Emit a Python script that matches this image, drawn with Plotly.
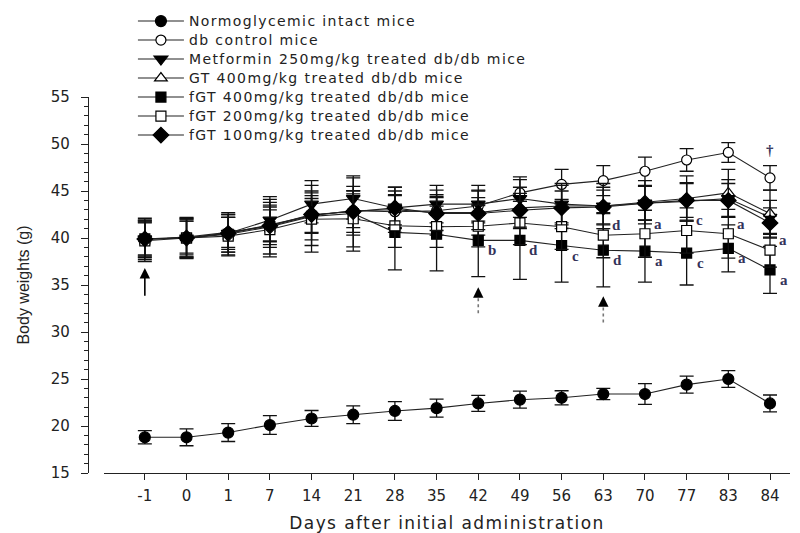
import plotly.graph_objects as go

# Sampling days (x categories)
days = ["-1", "0", "1", "7", "14", "21", "28", "35", "42", "49", "56", "63", "70", "77", "83", "84"]

# Body weight means and SEM (g) per group
normo_mean = [18.8, 18.8, 19.3, 20.1, 20.8, 21.2, 21.6, 21.9, 22.4, 22.8, 23.0, 23.4, 23.4, 24.4, 25.0, 22.4]
normo_sem = [0.7, 0.9, 0.95, 1.0, 0.85, 0.95, 1.0, 0.95, 0.85, 0.9, 0.75, 0.6, 1.1, 0.9, 0.9, 0.9]

db_mean = [39.9, 40.1, 40.6, 41.3, 42.4, 42.9, 42.8, 42.9, 43.4, 44.8, 45.7, 46.1, 47.1, 48.3, 49.1, 46.4]
db_sem = [1.8, 1.7, 1.6, 1.7, 1.8, 1.8, 1.7, 1.7, 1.6, 1.7, 1.6, 1.6, 1.5, 1.2, 1.05, 1.3]

met_mean = [39.9, 40.0, 40.5, 41.9, 43.6, 44.2, 43.2, 43.6, 43.6, 44.2, 43.6, 43.4, 43.7, 43.9, 44.2, 42.2]
met_sem = [2.2, 2.0, 2.0, 2.2, 2.0, 2.2, 2.2, 2.0, 2.0, 2.0, 2.0, 2.0, 1.8, 2.0, 2.0, 1.8]

gt400_mean = [39.9, 40.0, 40.5, 41.4, 42.4, 42.9, 43.0, 42.7, 42.7, 43.2, 43.4, 43.4, 43.8, 44.2, 44.8, 42.6]
gt400_sem = [2.0, 2.2, 2.0, 2.4, 2.6, 2.6, 2.4, 2.4, 2.4, 2.2, 2.4, 2.4, 2.3, 2.4, 2.5, 2.5]

fgt400_mean = [39.9, 40.0, 40.4, 41.2, 42.3, 42.6, 40.6, 40.4, 39.75, 39.75, 39.2, 38.7, 38.6, 38.4, 38.9, 36.6]
fgt400_sem = [1.9, 2.1, 2.3, 3.2, 3.8, 4.0, 4.0, 3.9, 3.85, 4.15, 3.9, 3.9, 3.3, 3.4, 2.5, 2.5]

fgt200_mean = [39.7, 40.0, 40.2, 40.9, 42.0, 42.05, 41.3, 41.2, 41.25, 41.6, 41.2, 40.3, 40.45, 40.8, 40.45, 38.7]
fgt200_sem = [2.2, 2.0, 2.0, 2.6, 2.8, 3.0, 2.3, 2.2, 2.2, 2.3, 2.4, 2.4, 2.5, 2.4, 2.6, 1.8]

fgt100_mean = [39.9, 40.0, 40.5, 41.3, 42.5, 42.8, 43.2, 42.6, 42.6, 42.95, 43.2, 43.3, 43.7, 44.0, 44.0, 41.6]
fgt100_sem = [1.7, 1.8, 1.7, 2.0, 2.0, 2.2, 1.8, 1.8, 1.7, 1.8, 1.8, 1.8, 1.8, 1.8, 1.8, 1.6]

# Significance letters (day -> letter)
fgt400_marks = {"42": "b", "49": "d", "56": "c", "63": "d", "70": "a", "77": "c", "83": "a", "84": "a"}
fgt200_marks = {"63": "d", "70": "a", "77": "c", "83": "a", "84": "a"}
db_marks = {"84": "\u2020"}

# Dosing arrows: first dose (solid) and later events (dotted), tip/tail in g
solid_arrow = ("-1", 36.8, 33.7)
dotted_arrows = [("42", 34.75, 32.0), ("63", 33.8, 31.0)]

LEG_STYLE = "font-size:14px;letter-spacing:1.4px"

series = [
    ("Normoglycemic intact mice", normo_mean, normo_sem, "circle", "black", 11),
    ("db control mice", db_mean, db_sem, "circle", "white", 10),
    ("Metformin 250mg/kg treated db/db mice", met_mean, met_sem, "triangle-down", "black", 12),
    ("GT 400mg/kg treated db/db mice", gt400_mean, gt400_sem, "triangle-up", "white", 11),
    ("fGT 400mg/kg treated db/db mice", fgt400_mean, fgt400_sem, "square", "black", 10),
    ("fGT 200mg/kg treated db/db mice", fgt200_mean, fgt200_sem, "square", "white", 10),
    ("fGT 100mg/kg treated db/db mice", fgt100_mean, fgt100_sem, "diamond", "black", 12),
]

fig = go.Figure()
for name, mean, sem, sym, fill, size in series:
    fig.add_trace(go.Scatter(
        x=days, y=mean,
        mode="lines+markers",
        name=f'<span style="{LEG_STYLE}">{name}</span>',
        line=dict(color="#222222", width=1.1),
        marker=dict(symbol=sym, color=fill, size=size,
                    line=dict(color="black", width=1.2)),
        error_y=dict(type="data", array=sem, visible=True,
                     color="#111111", thickness=1.3, width=7),
    ))

letter_font = dict(family="Liberation Serif", size=15, color="#33335a")


def add_marks(marks, yvals, xshift, yshift):
    # category positions are addressed by index on the category axis
    for d, txt in marks.items():
        i = days.index(d)
        fig.add_annotation(x=i, y=yvals[i], xref="x", yref="y",
                           text=f"<b>{txt}</b>", showarrow=False,
                           xshift=xshift, yshift=yshift, font=letter_font)


add_marks(fgt400_marks, fgt400_mean, 14, -10)
add_marks(fgt200_marks, fgt200_mean, 13, 10)
add_marks(db_marks, [m + s for m, s in zip(db_mean, db_sem)], 0, 16)

# solid arrow at the first administration
d, tip, tail = solid_arrow
i = days.index(d)
fig.add_annotation(x=i, y=tip, ax=i, ay=tail,
                   axref="x", ayref="y", xref="x", yref="y", text="",
                   showarrow=True, arrowhead=2, arrowsize=1.3, arrowwidth=1.6,
                   arrowcolor="black")

# dotted arrows
for d, tip, tail in dotted_arrows:
    i = days.index(d)
    fig.add_shape(type="line", x0=i, x1=i, y0=tail, y1=tip - 0.6,
                  xref="x", yref="y",
                  line=dict(color="#777777", width=1.6, dash="dot"))
    fig.add_annotation(x=i, y=tip, xref="x", yref="y", ax=0, ay=9, text="",
                       showarrow=True, arrowhead=2, arrowsize=1.3,
                       arrowwidth=1.6, arrowcolor="black")

axis_font = dict(family="DejaVu Sans", size=15, color="#222222")

fig.update_layout(
    width=800, height=533,
    margin=dict(l=88, r=10, t=97, b=60, autoexpand=False),
    paper_bgcolor="white", plot_bgcolor="white",
    showlegend=True,
    legend=dict(x=0.064, y=1.2405, xanchor="left", yanchor="top",
                bgcolor="rgba(0,0,0,0)", itemwidth=46,
                font=dict(family="DejaVu Sans", size=12, color="#222222"),
                itemclick=False),
    xaxis=dict(
        type="category", domain=[16 / 702, 1], range=[-0.98, 15.48],
        showline=True, linecolor="#222222", linewidth=1.3,
        ticks="outside", ticklen=6, tickwidth=1.2, tickcolor="#222222",
        tickfont=axis_font, ticklabelstandoff=3,
        showgrid=False, zeroline=False, anchor="y",
        title=dict(text='<span style="letter-spacing:1.4px">Days after initial administration</span>',
                   font=dict(family="DejaVu Sans", size=17, color="#222222"),
                   standoff=12),
    ),
    yaxis=dict(
        range=[15, 55], anchor="free", position=0,
        tickvals=[15, 20, 25, 30, 35, 40, 45, 50, 55],
        showline=True, linecolor="#222222", linewidth=1.3,
        ticks="outside", ticklen=7, tickwidth=1.2, tickcolor="#222222",
        minor=dict(dtick=1, ticks="outside", ticklen=3.5, tickwidth=1,
                   tickcolor="#222222", showgrid=False),
        tickfont=axis_font, ticklabelstandoff=8,
        showgrid=False, zeroline=False,
        title=dict(text="Body weights (g)",
                   font=dict(family="Liberation Sans", size=16, color="#222222"),
                   standoff=16),
    ),
)

fig.write_html("out.html")
